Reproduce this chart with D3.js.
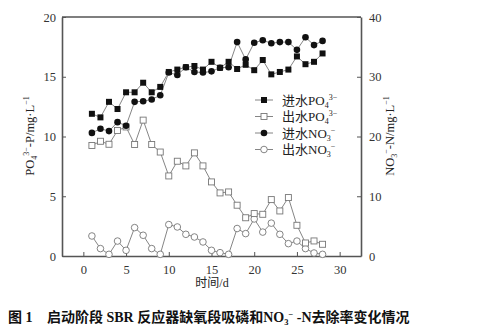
<!DOCTYPE html>
<html><head><meta charset="utf-8">
<script src="https://cdn.jsdelivr.net/npm/d3@7"></script>
<style>body{margin:0;background:#fff}svg{display:block}</style>
</head><body>
<script>
const days = [1,2,3,4,5,6,7,8,9,10,11,12,13,14,15,16,17,18,19,20,21,22,23,24,25,26,27,28];
const inPO4 = [11.9,11.6,12.9,12.3,13.7,13.7,14.5,13.7,14.15,15.4,15.6,15.8,15.9,15.6,16.25,15.75,16.25,15.65,16.0,15.55,16.4,15.2,15.4,15.6,16.7,16.05,16.25,16.95];
const outPO4 = [9.25,9.6,9.35,10.5,10.8,9.33,11.37,9.33,8.7,6.7,7.93,7.54,8.63,7.54,6.2,5.28,5.36,4.25,3.2,3.55,3.49,4.72,3.77,4.89,2.57,1.09,1.26,0.98];
const inNO3 = [20.6,21.3,20.9,22.4,21.8,25.8,25.9,26.2,26.9,30.7,30.3,31.6,30.8,30.7,30.9,31.5,31.6,35.8,32.9,35.7,36.1,35.6,35.8,35.8,34.5,36.6,35.3,36.0];
const outNO3 = [3.35,1.24,0.28,2.5,0.95,4.75,3.47,1.24,0.28,5.26,4.86,3.63,3.18,2.35,0.95,0.56,0.28,4.6,3.75,6.2,4.0,5.5,3.63,2.07,2.5,1.24,0.5,0.28];
const xTicks = [0,5,10,15,20,25,30];
const yLTicks = [0,5,10,15,20];
const yRTicks = [0,10,20,30,40];

const W=482,H=335;
const svg=d3.select("body").append("svg").attr("width",W).attr("height",H);
svg.append("rect").attr("width",W).attr("height",H).attr("fill","#fff");
const L=62,R=361,T=17,B=256;
const x=d3.scaleLinear().domain([-2.5,32.5]).range([L,R]);
const yL=d3.scaleLinear().domain([0,20]).range([B,T]);
const yR=d3.scaleLinear().domain([0,40]).range([B,T]);
const serif='"Liberation Serif","Times New Roman",serif';
const cjk='"Liberation Serif","Noto Sans CJK SC",serif';
const axCol="#555";

function styleAxis(g){
  g.selectAll(".domain").attr("stroke",axCol).attr("stroke-width",1.6);
  g.selectAll(".tick line").attr("stroke",axCol).attr("stroke-width",1);
  g.selectAll(".tick text").attr("fill","#333").attr("font-family",serif).attr("font-size",12.5);
}
svg.append("line").attr("x1",L).attr("x2",R).attr("y1",T).attr("y2",T).attr("stroke",axCol).attr("stroke-width",1.6);
const gx=svg.append("g").attr("transform",`translate(0,${B})`)
  .call(d3.axisBottom(x).tickValues(xTicks).tickSizeInner(-4).tickSizeOuter(0).tickPadding(9));
styleAxis(gx);
const gl=svg.append("g").attr("transform",`translate(${L},0)`)
  .call(d3.axisLeft(yL).tickValues(yLTicks).tickSizeInner(-4).tickSizeOuter(0).tickPadding(6));
styleAxis(gl);
const gr=svg.append("g").attr("transform",`translate(${R},0)`)
  .call(d3.axisRight(yR).tickValues(yRTicks).tickSizeInner(-4).tickSizeOuter(0).tickPadding(8));
styleAxis(gr);

const lineCol="#777";
function drawSeries(vals, ys, kind){
  const line=d3.line().x((d,i)=>x(days[i])).y(d=>ys(d));
  svg.append("path").datum(vals).attr("d",line).attr("fill","none").attr("stroke",lineCol).attr("stroke-width",0.9);
  const g=svg.append("g");
  vals.forEach((v,i)=>drawMarker(g,x(days[i]),ys(v),kind));
}
function drawMarker(g,cx,cy,kind){
  if(kind==="fs") g.append("rect").attr("x",cx-3).attr("y",cy-3).attr("width",6).attr("height",6).attr("fill","#111");
  if(kind==="os") g.append("rect").attr("x",cx-3).attr("y",cy-3).attr("width",6).attr("height",6).attr("fill","#fff").attr("stroke","#777").attr("stroke-width",0.9);
  if(kind==="fc") g.append("circle").attr("cx",cx).attr("cy",cy).attr("r",3.3).attr("fill","#111");
  if(kind==="oc") g.append("circle").attr("cx",cx).attr("cy",cy).attr("r",3.3).attr("fill","#fff").attr("stroke","#777").attr("stroke-width",0.9);
}
drawSeries(outNO3,yR,"oc");
drawSeries(outPO4,yL,"os");
drawSeries(inNO3,yR,"fc");
drawSeries(inPO4,yL,"fs");

const legItems=[["进水PO","4","3−","fs"],["出水PO","4","3−","os"],["进水NO","3","−","fc"],["出水NO","3","−","oc"]];
const legY=[100,116.5,133,149.5];
legItems.forEach((it,i)=>{
  const y=legY[i];
  svg.append("line").attr("x1",255).attr("x2",273).attr("y1",y).attr("y2",y).attr("stroke",lineCol).attr("stroke-width",0.9);
  drawMarker(svg,264,y,it[3]);
  const t=svg.append("text").attr("x",282).attr("y",y+4.5).attr("font-family",cjk).attr("font-size",13).attr("fill","#222");
  t.append("tspan").text(it[0]);
  t.append("tspan").attr("font-size",8).attr("dy",3).text(it[1]);
  t.append("tspan").attr("font-size",8).attr("dy",-8).text(it[2]);
});

const lt=svg.append("text").attr("transform",`translate(34,136) rotate(-90)`).attr("text-anchor","middle")
  .attr("font-family",serif).attr("font-size",12.5).attr("fill","#222");
lt.append("tspan").text("PO");
lt.append("tspan").attr("font-size",8).attr("dy",3).text("4");
lt.append("tspan").attr("font-size",8).attr("dy",-8).text("3−");
lt.append("tspan").attr("dy",5).text("-P/mg·L");
lt.append("tspan").attr("font-size",8).attr("dy",-5).text("−1");

const rt=svg.append("text").attr("transform",`translate(394,136) rotate(-90)`).attr("text-anchor","middle")
  .attr("font-family",serif).attr("font-size",12.5).attr("fill","#222");
rt.append("tspan").text("NO");
rt.append("tspan").attr("font-size",8).attr("dy",3).text("3");
rt.append("tspan").attr("font-size",8).attr("dy",-8).text("−");
rt.append("tspan").attr("dy",5).text("-N/mg·L");
rt.append("tspan").attr("font-size",8).attr("dy",-5).text("−1");

svg.append("text").attr("x",212).attr("y",287).attr("text-anchor","middle")
  .attr("font-family",cjk).attr("font-size",12).attr("fill","#222").text("时间/d");

svg.append("text").attr("x",8).attr("y",322).attr("font-family",cjk).attr("font-size",14).attr("font-weight","bold").attr("fill","#111").text("图 1");
const cap=svg.append("text").attr("x",47).attr("y",322).attr("font-family",cjk).attr("font-size",14).attr("font-weight","bold").attr("fill","#111");
cap.append("tspan").text("启动阶段 SBR 反应器缺氧段吸磷和NO");
cap.append("tspan").attr("font-size",8.5).attr("dy",3).text("3");
cap.append("tspan").attr("font-size",8.5).attr("dy",-8).text("−");
cap.append("tspan").attr("dy",5).text(" -N去除率变化情况");
</script>
</body></html>
